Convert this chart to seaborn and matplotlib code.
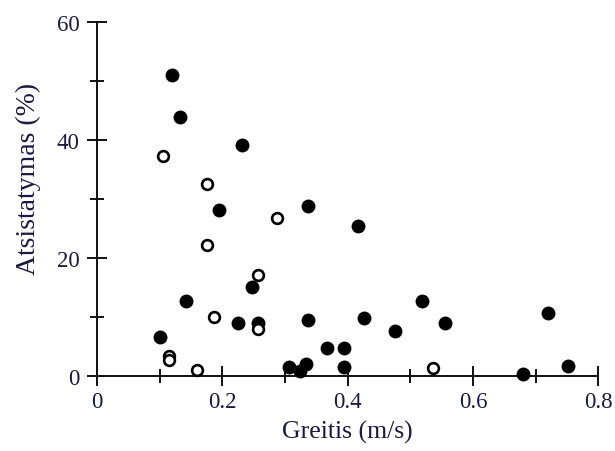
import matplotlib
matplotlib.use("Agg")
import matplotlib.pyplot as plt
import seaborn as sns
import pandas as pd
from matplotlib.ticker import MultipleLocator

# Filled points (closed circles)
speed_filled = [0.119, 0.132, 0.231, 0.195, 0.337, 0.417, 0.248, 0.142, 0.225, 0.257,
                0.100, 0.337, 0.426, 0.519, 0.556, 0.475, 0.367, 0.395, 0.307, 0.324,
                0.334, 0.395, 0.720, 0.751, 0.680]
recovery_filled = [51.1, 43.9, 39.2, 28.2, 28.8, 25.5, 15.1, 12.8, 9.0, 9.1,
                   6.6, 9.5, 9.9, 12.8, 9.0, 7.6, 4.8, 4.8, 1.5, 0.95,
                   2.0, 1.5, 10.8, 1.8, 0.4]

# Open points (empty circles)
speed_open = [0.106, 0.176, 0.176, 0.257, 0.288, 0.186, 0.257, 0.115, 0.115, 0.159, 0.536]
recovery_open = [37.3, 32.6, 22.3, 17.2, 26.9, 10.0, 8.0, 3.4, 2.8, 1.07, 1.4]

x_ticks = [0, 0.2, 0.4, 0.6, 0.8]
x_tick_labels = ['0', '0.2', '0.4', '0.6', '0.8']
y_ticks = [0, 20, 40, 60]

filled = pd.DataFrame({'Greitis': speed_filled, 'Atsistatymas': recovery_filled})
empty = pd.DataFrame({'Greitis': speed_open, 'Atsistatymas': recovery_open})

sns.set_style('ticks')
plt.rcParams['font.family'] = ['Liberation Serif', 'DejaVu Serif']
text_color = '#1a1a40'

fig = plt.figure(figsize=(6.15, 4.52), dpi=100)
ax = fig.add_axes([0.1577, 0.1653, 0.8151, 0.7832])

sns.scatterplot(data=filled, x='Greitis', y='Atsistatymas', ax=ax, s=100,
                color='black', linewidth=0, clip_on=False, zorder=3)
sns.scatterplot(data=empty, x='Greitis', y='Atsistatymas', ax=ax, s=60,
                facecolor='white', edgecolor='black', linewidth=1.9,
                clip_on=False, zorder=4)

ax.set_xlim(0, 0.8)
ax.set_ylim(0, 60)
ax.set_xticks(x_ticks)
ax.set_xticklabels(x_tick_labels)
ax.set_yticks(y_ticks)
ax.xaxis.set_minor_locator(MultipleLocator(0.1))
ax.yaxis.set_minor_locator(MultipleLocator(10))

sns.despine(ax=ax)
for side in ['left', 'bottom']:
    ax.spines[side].set_linewidth(1.4)
    ax.spines[side].set_color('#111111')

ax.tick_params(which='major', direction='inout', length=15, width=1.4,
               color='#111111', labelsize=16.5, labelcolor=text_color, pad=3)
ax.tick_params(axis='y', which='major', pad=5)
ax.tick_params(which='minor', direction='inout', length=10, width=1.4, color='#111111')

ax.set_xlabel('Greitis (m/s)', fontsize=18.5, color=text_color, labelpad=6)
ax.set_ylabel('Atsistatymas (%)', fontsize=20, color=text_color)
ax.yaxis.set_label_coords(-0.111, 0.56)

plt.savefig('out.png', dpi=100)
